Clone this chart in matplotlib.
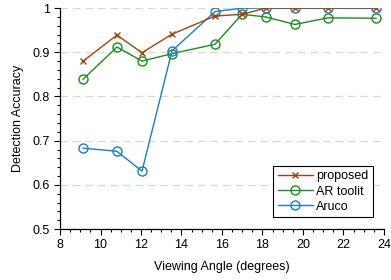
import numpy as np
import matplotlib
matplotlib.use("Agg")
import matplotlib.pyplot as plt
from matplotlib.ticker import MultipleLocator, FuncFormatter

# viewing angle (degrees)
angle = [9.14, 10.81, 12.05, 13.53, 15.65, 16.99, 18.17, 19.6, 21.23, 23.6]
proposed = [0.880, 0.939, 0.899, 0.941, 0.982, 0.986, 1.0, 1.0, 1.0, 1.0]
artoolkit = [0.839, 0.912, 0.880, 0.897, 0.918, 0.986, 0.980, 0.963, 0.978, 0.977]
aruco = [0.683, 0.676, 0.631, 0.903, 0.992, 1.0, 1.0, 1.0, 1.0, 1.0]

plt.rcParams['font.family'] = ['Liberation Sans', 'DejaVu Sans']
fs = 9

fig = plt.figure(figsize=(3.91, 2.80), dpi=100)
ax = fig.add_axes([0.1535, 0.182, 0.8285, 0.789])

ax.plot(angle, proposed, color='#a5420f', marker='x', ms=5, mew=1.0, lw=1.0,
        label='proposed', zorder=3)
ax.plot(angle, artoolkit, color='#1f8c1f', marker='o', ms=6.5, mfc='none', mew=1.0,
        lw=1.0, label='AR toolit', zorder=2)
ax.plot(angle, aruco, color='#1f7bc8', marker='o', ms=6.5, mfc='none', mew=1.0,
        lw=1.0, label='Aruco', zorder=2.5)

ax.set_xlim(8, 24)
ax.set_ylim(0.5, 1.0)
ax.xaxis.set_major_locator(MultipleLocator(2))
ax.xaxis.set_minor_locator(MultipleLocator(0.5))
ax.yaxis.set_major_locator(MultipleLocator(0.1))
ax.yaxis.set_minor_locator(MultipleLocator(0.02))
ax.yaxis.set_major_formatter(FuncFormatter(lambda v, p: '%g' % round(v, 2)))

ax.grid(axis='y', which='major', color='#d8d8d8', ls=(0, (6, 4)), lw=0.9)
ax.set_axisbelow(True)
for s in ['top', 'right']:
    ax.spines[s].set_visible(False)
for s in ['left', 'bottom']:
    ax.spines[s].set_linewidth(0.9)
ax.tick_params(which='major', length=4, width=0.8, direction='out', labelsize=fs)
ax.tick_params(which='minor', length=2.5, width=0.8, direction='out')

ax.set_xlabel('Viewing Angle (degrees)', fontsize=fs, labelpad=7)
ax.set_ylabel('Detection Accuracy', fontsize=fs, labelpad=6)

leg = ax.legend(loc='lower right', bbox_to_anchor=(0.966, 0.054), fontsize=fs,
                fancybox=False, framealpha=1, edgecolor='black',
                handlelength=2.8, handletextpad=0.3, borderpad=0.35,
                labelspacing=0.25, borderaxespad=0)
leg.get_frame().set_linewidth(0.8)

fig.savefig('out.png', dpi=100)
